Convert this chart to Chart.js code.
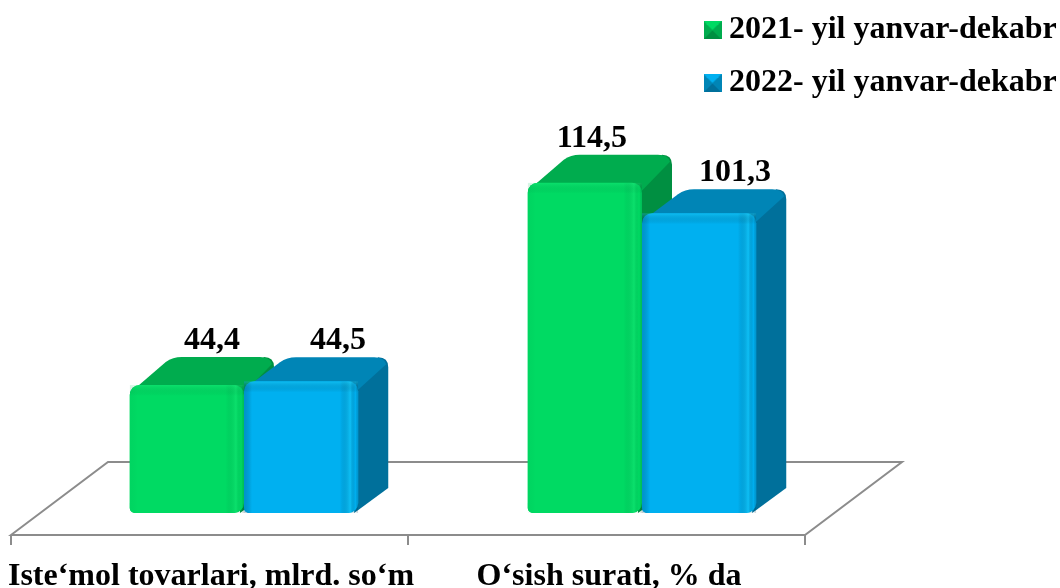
<!DOCTYPE html>
<html>
<head>
<meta charset="utf-8">
<style>
  html, body { margin: 0; padding: 0; background: #fff; }
  canvas { display: block; }
</style>
<script src="https://cdn.jsdelivr.net/npm/chart.js@4"></script>
</head>
<body>
<canvas id="Canvas1" width="1060" height="588"></canvas>
<script>
var categories = ['Iste\u2018mol tovarlari, mlrd. so\u2018m', 'O\u2018sish surati, % da'];
var seriesNames = ['2021- yil yanvar-dekabr', '2022- yil yanvar-dekabr'];
var values2021 = [44.4, 114.5];
var values2022 = [44.5, 101.3];

var serifBold = '"Liberation Serif", "Times New Roman", serif';

// face colours for each series: front, top, side, and the shading on the front face
var faces = [
    {front: '#00DA63', top: '#00AC4E', side: '#008F41', rim: 'rgba(0,90,50,0.22)', leftRim: 'rgba(0,90,50,0.04)', shine: 'rgba(60,255,150,0.18)'},
    {front: '#00B0F0', top: '#0085B6', side: '#00709B', rim: 'rgba(0,70,110,0.25)', leftRim: 'rgba(0,70,110,0.28)', shine: 'rgba(40,220,255,0.35)'}
];
var depthX = 30;
var depthY = [28, 24];
// value labels sit over the top face, shifted right of the bar centre
var labelShift = [[25, 7], [37, 36]];

function legendIcon(face) {
    var c = document.createElement('canvas');
    c.width = 18;
    c.height = 18;
    var g = c.getContext('2d');
    var tri = function (color, pts) {
        g.fillStyle = color;
        g.beginPath();
        g.moveTo(pts[0], pts[1]);
        g.lineTo(pts[2], pts[3]);
        g.lineTo(pts[4], pts[5]);
        g.closePath();
        g.fill();
    };
    g.fillStyle = face.front;
    g.fillRect(0, 0, 18, 18);
    tri(face.front, [0, 0, 18, 0, 9, 9]);
    tri(face.top, [0, 0, 0, 18, 9, 9]);
    tri(face.top, [18, 0, 18, 18, 9, 9]);
    tri(face.side, [0, 18, 18, 18, 9, 9]);
    g.fillStyle = face.front;
    g.fillRect(3, 1, 12, 3);
    return c;
}

function drawFloor(chart) {
    var ctx = chart.ctx;
    var b = chart.chartArea.bottom;
    var l = chart.chartArea.left - 34;
    var r = chart.chartArea.right - 36;
    var step = (r - l) / categories.length;
    ctx.save();
    ctx.strokeStyle = '#8C8C8C';
    ctx.lineWidth = 2;
    ctx.beginPath();
    ctx.moveTo(l, b + 22);
    ctx.lineTo(l + 97, b - 51);
    ctx.lineTo(r + 97, b - 51);
    ctx.lineTo(r, b + 22);
    ctx.closePath();
    ctx.stroke();
    for (var i = 0; i <= categories.length; i++) {
        ctx.beginPath();
        ctx.moveTo(l + i * step, b + 22);
        ctx.lineTo(l + i * step, b + 32);
        ctx.stroke();
    }
    ctx.restore();
}

function drawBlock(ctx, bar, face, dy) {
    var L = bar.x - bar.width / 2;
    var R = bar.x + bar.width / 2;
    var T = bar.y;
    var B = bar.base;
    var dx = depthX;

    // side + top silhouette
    ctx.fillStyle = face.side;
    ctx.beginPath();
    ctx.moveTo(R - 8, T + 6);
    ctx.lineTo(R + dx - 10, T - dy);
    ctx.quadraticCurveTo(R + dx, T - dy, R + dx, T - dy + 10);
    ctx.lineTo(R + dx, B - 25);
    ctx.lineTo(R - 4, B);
    ctx.closePath();
    ctx.fill();

    ctx.fillStyle = face.top;
    ctx.beginPath();
    ctx.moveTo(L, T + 8);
    ctx.lineTo(L + dx + 6, T - dy + 5);
    ctx.quadraticCurveTo(L + dx + 13, T - dy, L + dx + 22, T - dy);
    ctx.lineTo(R + dx - 14, T - dy);
    ctx.quadraticCurveTo(R + dx - 4, T - dy, R + dx - 2, T - dy + 7);
    ctx.lineTo(R - 4, T + 12);
    ctx.closePath();
    ctx.fill();
}

function drawGloss(ctx, bar, face) {
    var L = bar.x - bar.width / 2;
    var w = bar.width;
    var T = bar.y;
    var h = bar.base - bar.y;
    ctx.save();
    ctx.beginPath();
    ctx.roundRect(L, T, w, h, {topLeft: 10, topRight: 10, bottomLeft: 5, bottomRight: 10});
    ctx.clip();

    var g = ctx.createLinearGradient(L, 0, L + w, 0);
    g.addColorStop(0, face.leftRim);
    g.addColorStop(0.07, 'rgba(0,0,0,0)');
    g.addColorStop(0.84, 'rgba(0,0,0,0)');
    g.addColorStop(0.93, face.shine);
    g.addColorStop(0.975, 'rgba(0,0,0,0)');
    g.addColorStop(1, face.rim);
    ctx.fillStyle = g;
    ctx.fillRect(L, T, w, h);

    g = ctx.createLinearGradient(0, T, 0, T + 11);
    g.addColorStop(0, face.shine);
    g.addColorStop(1, 'rgba(0,0,0,0)');
    ctx.fillStyle = g;
    ctx.fillRect(L, T, w, 11);
    ctx.restore();
}

var blockPlugin = {
    id: 'blocks',
    afterLayout: function (chart) {
        // legend hangs over the top right corner, outside the plot
        var lg = chart.legend;
        lg.left = 691;
        lg.right = 1060;
        lg.top = -7;
        lg.bottom = 300;
    },
    beforeDatasetsDraw: function (chart) {
        drawFloor(chart);
    },
    afterDatasetsDraw: function (chart) {
        var ctx = chart.ctx;
        // Chart.js paints the first dataset last, here 2022 has to land on top
        for (var d = 0; d < chart.data.datasets.length; d++) {
            var meta = chart.getDatasetMeta(d);
            for (var i = 0; i < meta.data.length; i++) {
                var bar = meta.data[i];
                ctx.save();
                drawBlock(ctx, bar, faces[d], depthY[d]);
                bar.draw(ctx);
                drawGloss(ctx, bar, faces[d]);
                ctx.restore();
            }
        }
        ctx.save();
        ctx.fillStyle = '#000';
        ctx.font = 'bold 32px ' + serifBold;
        ctx.textAlign = 'center';
        ctx.textBaseline = 'alphabetic';
        for (d = 0; d < chart.data.datasets.length; d++) {
            meta = chart.getDatasetMeta(d);
            for (i = 0; i < meta.data.length; i++) {
                bar = meta.data[i];
                var txt = String(chart.data.datasets[d].data[i]).replace('.', ',');
                ctx.fillText(txt, bar.x + labelShift[d][i], bar.y - depthY[d] - 8);
            }
        }
        ctx.restore();
    }
};

var myChart = new Chart(document.getElementById('Canvas1').getContext('2d'), {
    type: 'bar',
    data: {
        labels: categories,
        datasets: [{
            label: seriesNames[0],
            data: values2021,
            backgroundColor: faces[0].front,
            yAxisID: 'y',
            borderRadius: {topLeft: 10, topRight: 10, bottomLeft: 5, bottomRight: 10},
            borderSkipped: false
        }, {
            label: seriesNames[1],
            data: values2022,
            backgroundColor: faces[1].front,
            yAxisID: 'y2',
            borderRadius: {topLeft: 10, topRight: 10, bottomLeft: 5, bottomRight: 10},
            borderSkipped: false
        }]
    },
    options: {
        responsive: false,
        animation: false,
        categoryPercentage: 0.574,
        barPercentage: 1,
        layout: {autoPadding: false, padding: {left: 45, right: 219, top: 0, bottom: 0}},
        plugins: {
            tooltip: {enabled: false},
            legend: {
                position: 'chartArea',
                align: 'start',
                labels: {
                    usePointStyle: true,
                    pointStyleWidth: 1,
                    boxHeight: 18,
                    padding: 21,
                    color: '#000',
                    font: {family: serifBold, weight: 'bold', size: 32},
                    generateLabels: function (chart) {
                        return chart.data.datasets.map(function (ds, i) {
                            return {text: ds.label, datasetIndex: i, fontColor: '#000',
                                pointStyle: legendIcon(faces[i]), lineWidth: 0};
                        });
                    }
                }
            }
        },
        scales: {
            x: {
                grid: {display: false},
                border: {display: false},
                afterFit: function (s) {
                    s.height = 75;
                    s.paddingLeft = 0;
                    s.paddingRight = 0;
                },
                ticks: {
                    padding: 37,
                    labelOffset: -33,
                    maxRotation: 0,
                    autoSkip: false,
                    color: '#000',
                    font: {family: serifBold, weight: 'bold', size: 32}
                }
            },
            // the source picture draws each series at a slightly different height per unit
            y: {display: false, min: 0, max: 177.8},
            y2: {display: false, min: 0, max: 173.3}
        }
    },
    plugins: [blockPlugin]
});
</script>
</body>
</html>
